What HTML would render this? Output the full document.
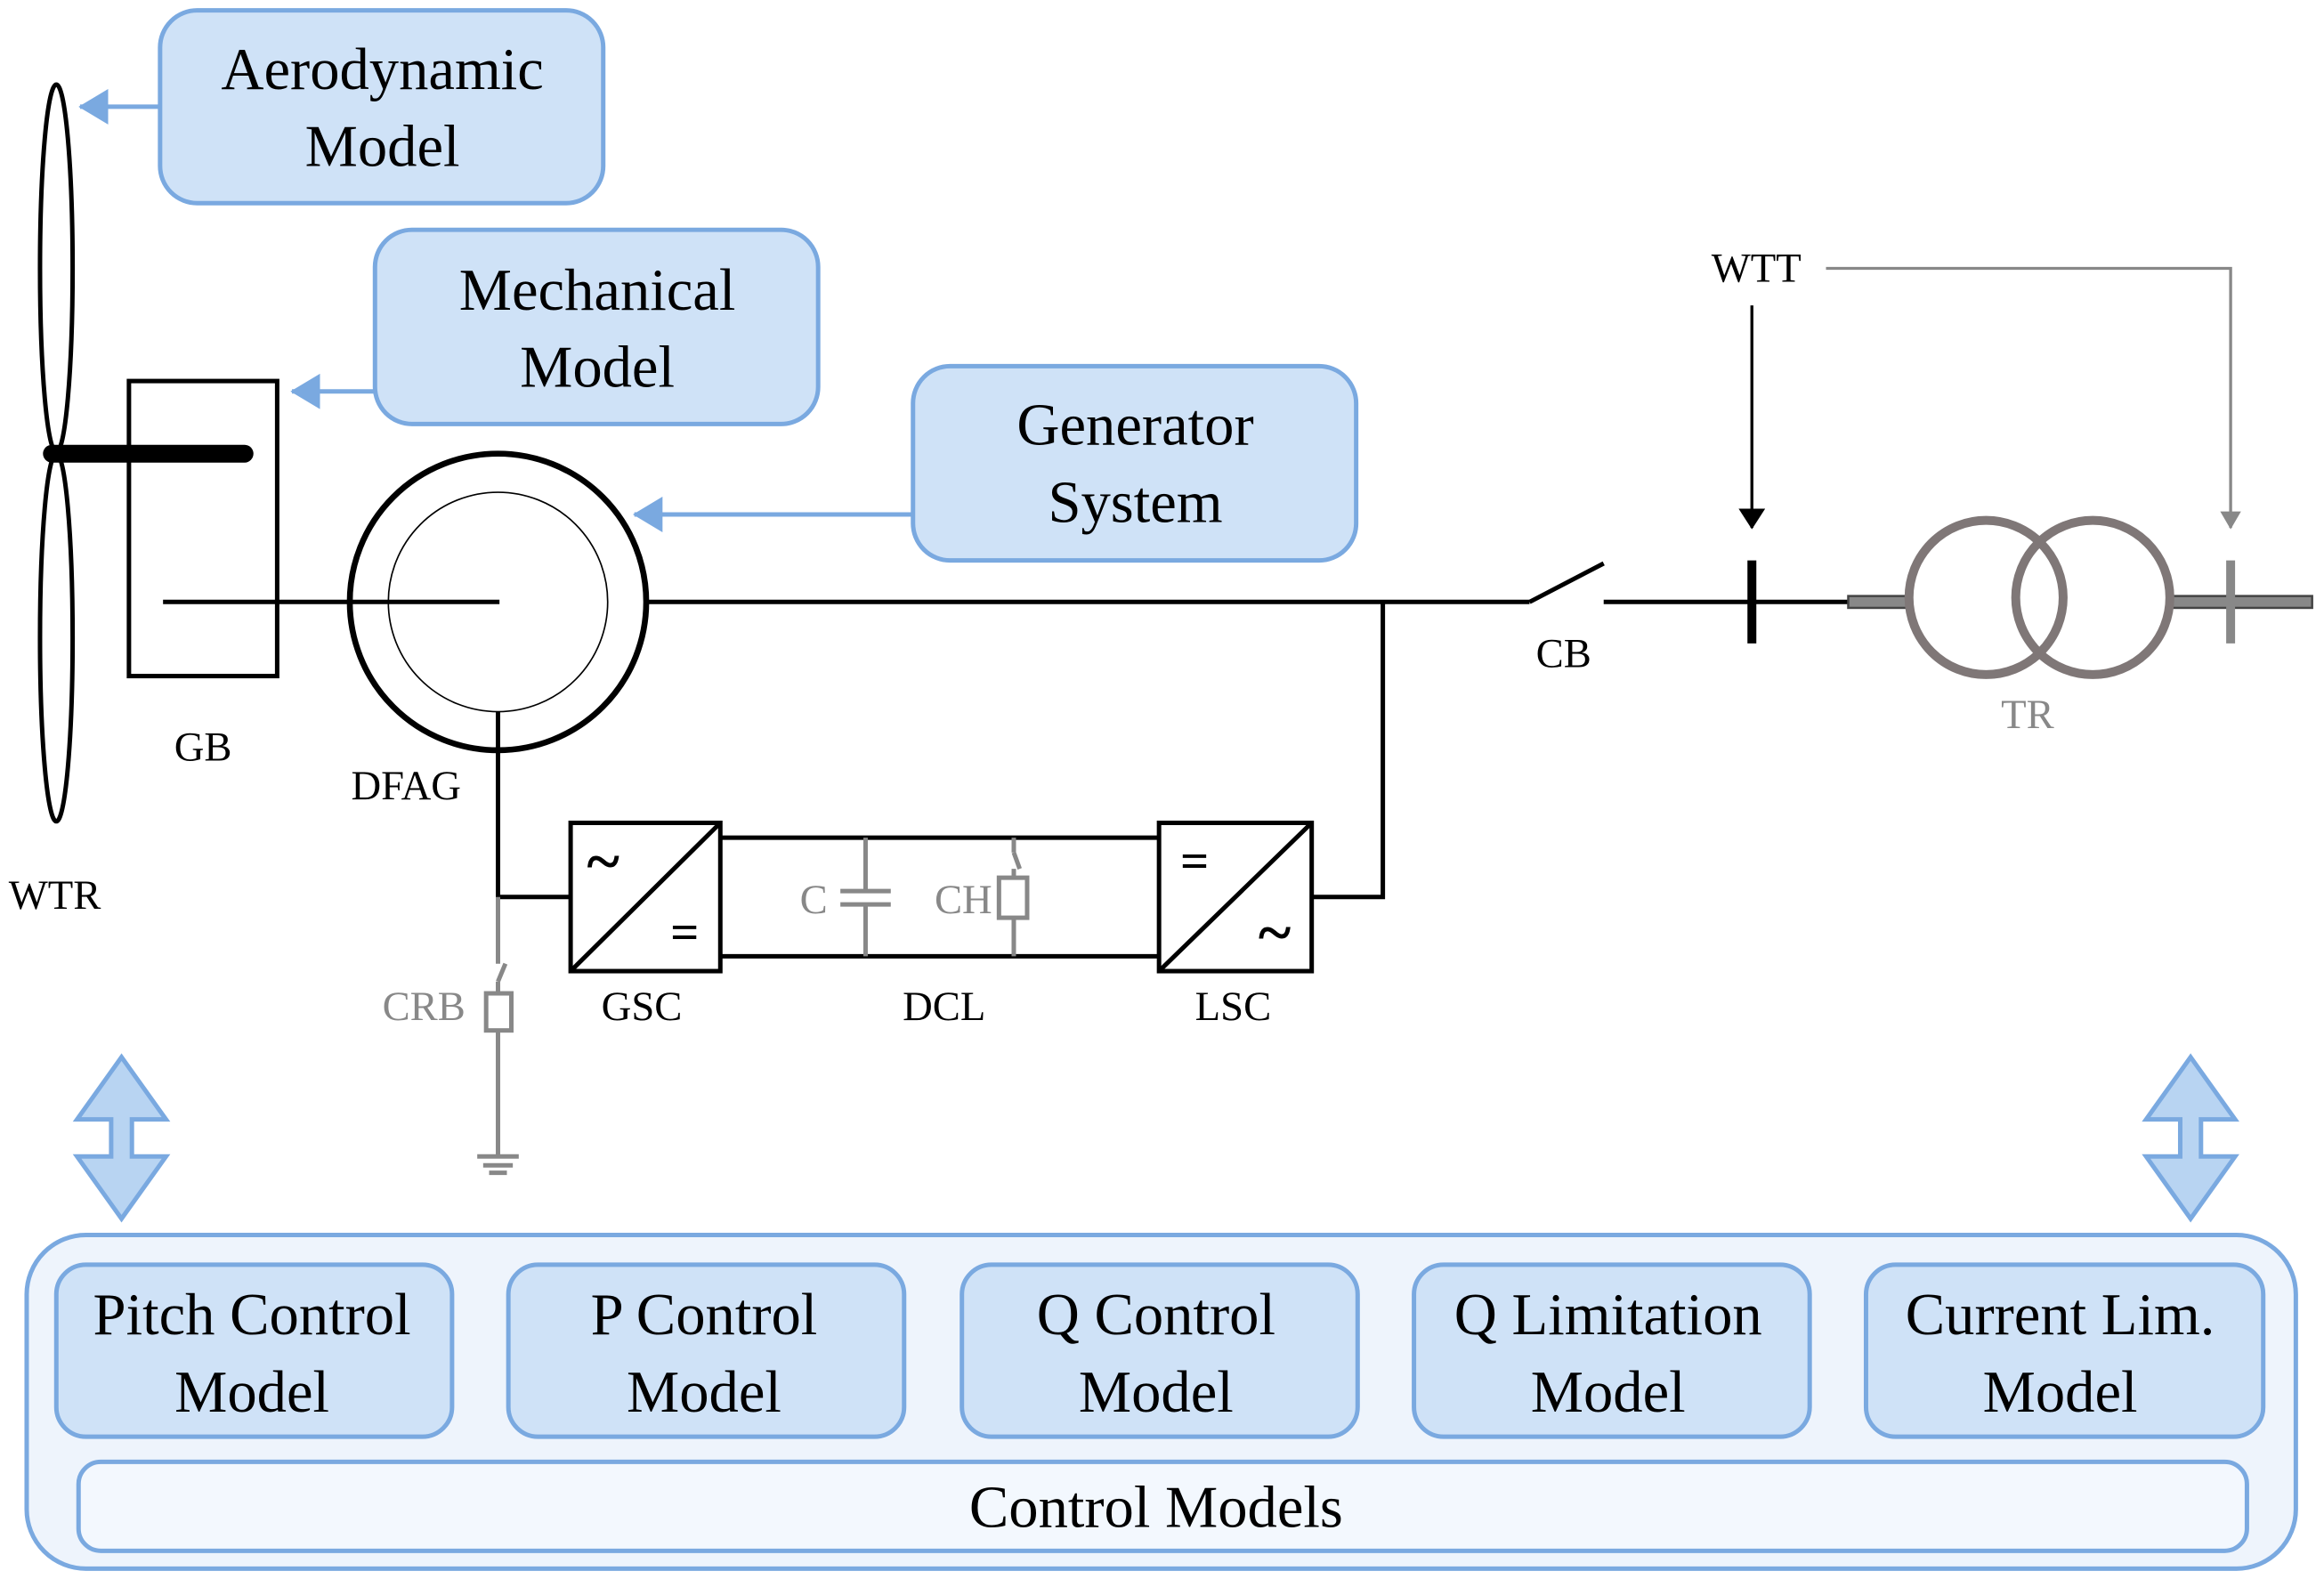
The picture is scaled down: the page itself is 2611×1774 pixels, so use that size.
<!DOCTYPE html>
<html><head><meta charset="utf-8"><style>
html,body{margin:0;padding:0;background:#fff;}
svg{display:block;}
text{font-family:"Liberation Serif",serif;}
</style></head><body>
<svg width="2611" height="1774" viewBox="0 0 1568 1065" preserveAspectRatio="none" xmlns="http://www.w3.org/2000/svg">
<defs>
<marker id="ag" markerWidth="12" markerHeight="14" refX="11" refY="7" orient="auto" markerUnits="userSpaceOnUse"><path d="M0,0 L12,7 L0,14 Z" fill="#888"/></marker>
<marker id="abl" markerWidth="20" markerHeight="24" refX="19" refY="12" orient="auto" markerUnits="userSpaceOnUse"><path d="M0,0 L20,12 L0,24 Z" fill="#7aa9e0"/></marker>
<marker id="ab2" markerWidth="14" markerHeight="18" refX="13" refY="9" orient="auto" markerUnits="userSpaceOnUse"><path d="M0,0 L14,9 L0,18 Z" fill="#000"/></marker>
</defs>
<ellipse cx="38" cy="181" rx="11" ry="124" fill="#fff" stroke="#000" stroke-width="3"/>
<ellipse cx="38" cy="430" rx="11" ry="124" fill="#fff" stroke="#000" stroke-width="3"/>
<rect x="87" y="257" width="100" height="199" fill="none" stroke="#000" stroke-width="3"/>
<line x1="35" y1="306" x2="165" y2="306" stroke="#000" stroke-width="12" stroke-linecap="round"/>
<line x1="110" y1="406" x2="337" y2="406" stroke="#000" stroke-width="3"/>
<circle cx="336" cy="406" r="100" fill="none" stroke="#000" stroke-width="4"/>
<circle cx="336" cy="406" r="74" fill="none" stroke="#000" stroke-width="1"/>
<line x1="436" y1="406" x2="1032" y2="406" stroke="#000" stroke-width="3"/>
<line x1="1032" y1="406" x2="1082" y2="380" stroke="#000" stroke-width="3"/>
<line x1="1082" y1="406" x2="1247" y2="406" stroke="#000" stroke-width="3"/>
<polyline points="933,406 933,605 885,605" fill="none" stroke="#000" stroke-width="3"/>
<line x1="1182" y1="378" x2="1182" y2="434" stroke="#000" stroke-width="6"/>
<text x="1185" y="190" font-size="28" text-anchor="middle">WTT</text>
<line x1="1182" y1="206" x2="1182" y2="356" stroke="#000" stroke-width="2" marker-end="url(#ab2)"/>
<polyline points="1232,181 1505,181 1505,356" fill="none" stroke="#888" stroke-width="2" marker-end="url(#ag)"/>
<rect x="1247" y="402" width="42" height="8" fill="#888" stroke="#444" stroke-width="1.5"/>
<rect x="1462" y="402" width="98" height="8" fill="#888" stroke="#444" stroke-width="1.5"/>
<circle cx="1340" cy="403" r="52" fill="none" stroke="#7f7777" stroke-width="6"/>
<circle cx="1412" cy="403" r="52" fill="none" stroke="#7f7777" stroke-width="6"/>
<line x1="1505" y1="378" x2="1505" y2="434" stroke="#888" stroke-width="6"/>
<text x="1368" y="491" font-size="28" text-anchor="middle" fill="#888">TR</text>
<text x="1055" y="450" font-size="28" text-anchor="middle">CB</text>
<text x="137" y="513" font-size="28" text-anchor="middle">GB</text>
<text x="274" y="539" font-size="28" text-anchor="middle">DFAG</text>
<text x="37" y="613" font-size="28" text-anchor="middle">WTR</text>
<polyline points="336,480 336,605 385,605" fill="none" stroke="#000" stroke-width="3"/>
<rect x="385" y="555" width="101" height="100" fill="#fff" stroke="#000" stroke-width="3"/>
<line x1="385" y1="655" x2="486" y2="555" stroke="#000" stroke-width="3"/>
<text x="407" y="595" font-size="42" text-anchor="middle" font-weight="bold">~</text>
<text x="462" y="640" font-size="34" text-anchor="middle" font-weight="bold">=</text>
<line x1="486" y1="565" x2="782" y2="565" stroke="#000" stroke-width="3"/>
<line x1="486" y1="645" x2="782" y2="645" stroke="#000" stroke-width="3"/>
<rect x="782" y="555" width="103" height="100" fill="#fff" stroke="#000" stroke-width="3"/>
<line x1="782" y1="655" x2="885" y2="555" stroke="#000" stroke-width="3"/>
<text x="806" y="592" font-size="34" text-anchor="middle" font-weight="bold">=</text>
<text x="860" y="643" font-size="42" text-anchor="middle" font-weight="bold">~</text>
<g stroke="#888" stroke-width="3">
<line x1="584" y1="565" x2="584" y2="601"/><line x1="567" y1="601" x2="601" y2="601"/>
<line x1="567" y1="610" x2="601" y2="610"/><line x1="584" y1="610" x2="584" y2="645"/>
<line x1="684" y1="565" x2="684" y2="575"/><line x1="684" y1="575" x2="688" y2="586"/>
<line x1="684" y1="586" x2="684" y2="592"/>
<rect x="674" y="592" width="19" height="27" fill="#fff"/>
<line x1="684" y1="619" x2="684" y2="645"/>
<line x1="336" y1="605" x2="336" y2="650"/><line x1="336" y1="662" x2="341" y2="650"/>
<line x1="336" y1="662" x2="336" y2="670"/>
<rect x="328" y="670" width="17" height="25" fill="#fff"/>
<line x1="336" y1="695" x2="336" y2="780"/>
<line x1="322" y1="780" x2="350" y2="780"/><line x1="326" y1="786" x2="346" y2="786"/><line x1="330" y1="791" x2="342" y2="791"/>
</g>
<text x="549" y="616" font-size="28" text-anchor="middle" fill="#888">C</text>
<text x="650" y="616" font-size="28" text-anchor="middle" fill="#888">CH</text>
<text x="286" y="688" font-size="28" text-anchor="middle" fill="#888">CRB</text>
<text x="433" y="688" font-size="28" text-anchor="middle">GSC</text>
<text x="637" y="688" font-size="28" text-anchor="middle">DCL</text>
<text x="832" y="688" font-size="28" text-anchor="middle">LSC</text>
<g fill="#cfe2f7" stroke="#7aa9e0" stroke-width="3">
<rect x="108" y="7" width="299" height="130" rx="25"/>
<rect x="253" y="155" width="299" height="131" rx="25"/>
<rect x="616" y="247" width="299" height="131" rx="25"/>
</g>
<line x1="108" y1="72" x2="54" y2="72" stroke="#7aa9e0" stroke-width="3" marker-end="url(#abl)"/>
<line x1="253" y1="264" x2="197" y2="264" stroke="#7aa9e0" stroke-width="3" marker-end="url(#abl)"/>
<line x1="616" y1="347" x2="428" y2="347" stroke="#7aa9e0" stroke-width="3" marker-end="url(#abl)"/>
<g font-size="40" text-anchor="middle">
<text x="258" y="60">Aerodynamic</text><text x="258" y="112">Model</text>
<text x="403" y="209">Mechanical</text><text x="403" y="261">Model</text>
<text x="766" y="300">Generator</text><text x="766" y="352">System</text>
</g>
<g fill="#b8d4f2" stroke="#7aa9e0" stroke-width="3">
<path d="M82,713 L112,755 L89,755 L89,780 L112,780 L82,822 L52,780 L75,780 L75,755 L52,755 Z"/>
<path d="M1478,713 L1508,755 L1485,755 L1485,780 L1508,780 L1478,822 L1448,780 L1471,780 L1471,755 L1448,755 Z"/>
</g>
<rect x="18" y="833" width="1531" height="225" rx="40" fill="#eef4fc" stroke="#7aa9e0" stroke-width="3"/>
<g fill="#cfe2f7" stroke="#7aa9e0" stroke-width="3">
<rect x="38" y="853" width="267" height="116" rx="20"/>
<rect x="343" y="853" width="267" height="116" rx="20"/>
<rect x="649" y="853" width="267" height="116" rx="20"/>
<rect x="954" y="853" width="267" height="116" rx="20"/>
<rect x="1259" y="853" width="268" height="116" rx="20"/>
</g>
<rect x="53" y="986" width="1463" height="60" rx="15" fill="#f3f8fe" stroke="#7aa9e0" stroke-width="3"/>
<g font-size="40" text-anchor="middle">
<text x="170" y="900">Pitch Control</text><text x="170" y="952">Model</text>
<text x="475" y="900">P Control</text><text x="475" y="952">Model</text>
<text x="780" y="900">Q Control</text><text x="780" y="952">Model</text>
<text x="1085" y="900">Q Limitation</text><text x="1085" y="952">Model</text>
<text x="1390" y="900">Current Lim.</text><text x="1390" y="952">Model</text>
<text x="780" y="1030">Control Models</text>
</g>
</svg>
</body></html>
